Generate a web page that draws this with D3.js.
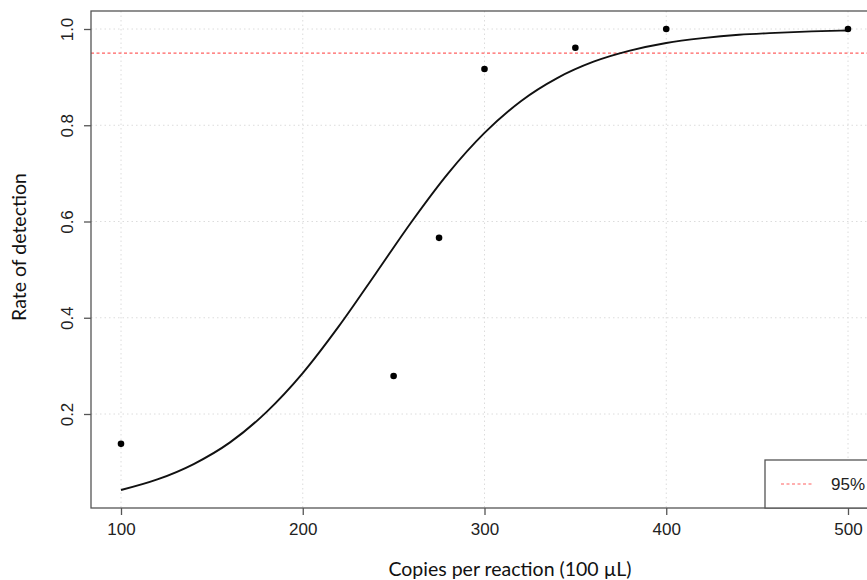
<!DOCTYPE html>
<html>
<head>
<meta charset="utf-8">
<script src="https://cdn.jsdelivr.net/npm/d3@7"></script>
<style>
  body { margin: 0; background: #fff; }
  svg { display: block; }
</style>
</head>
<body>
<svg id="chart" width="867" height="580"></svg>
<script>
// observed detection rates
var copies = [100, 250, 275, 300, 350, 400, 500]
var rates = [0.138, 0.279, 0.566, 0.917, 0.961, 1.0, 1.0]

// fitted curve
var fitX = [100, 120, 140, 160, 180, 200, 220, 240, 260, 280, 300, 320, 340, 360, 380, 400, 420, 440, 460, 480, 500]
var fitY = [0.042, 0.064, 0.096, 0.141, 0.204, 0.285, 0.383, 0.491, 0.600, 0.700, 0.784, 0.850, 0.898, 0.932, 0.955, 0.971, 0.981, 0.988, 0.992, 0.995, 0.997]

var xTicks = [100, 200, 300, 400, 500]
var yTicks = [0.2, 0.4, 0.6, 0.8, 1.0]
var threshold = 0.95

var svg = d3.select('#chart')
var pLeft = 91, pTop = 11, pRight = 877, pBottom = 508

var x = d3.scaleLinear().domain([100, 500]).range([121, 848])
var y = d3.scaleLinear().domain([0.2, 1.0]).range([414, 29])

var g = svg.append('g')

// grid
g.selectAll('.gx').data(xTicks).enter().append('line')
  .attr('x1', function(d) { return x(d) }).attr('x2', function(d) { return x(d) })
  .attr('y1', pTop).attr('y2', pBottom)
  .attr('stroke', '#dcdcdc').attr('stroke-dasharray', '1.5,3')
g.selectAll('.gy').data(yTicks).enter().append('line')
  .attr('x1', pLeft).attr('x2', pRight)
  .attr('y1', function(d) { return y(d) }).attr('y2', function(d) { return y(d) })
  .attr('stroke', '#dcdcdc').attr('stroke-dasharray', '1.5,3')

// 95% line
g.append('line')
  .attr('x1', pLeft).attr('x2', pRight)
  .attr('y1', y(threshold)).attr('y2', y(threshold))
  .attr('stroke', '#ff6060').attr('stroke-width', 1.2).attr('stroke-dasharray', '3,2.5')

// fitted curve
var line = d3.line()
  .x(function(d) { return x(d[0]) })
  .y(function(d) { return y(d[1]) })
  .curve(d3.curveMonotoneX)
g.append('path')
  .datum(d3.zip(fitX, fitY))
  .attr('d', line)
  .attr('fill', 'none').attr('stroke', '#111').attr('stroke-width', 1.9)

// observed points
g.selectAll('.pt').data(d3.zip(copies, rates)).enter().append('circle')
  .attr('cx', function(d) { return x(d[0]) })
  .attr('cy', function(d) { return y(d[1]) })
  .attr('r', 3.3).attr('fill', '#000')

// frame
g.append('rect')
  .attr('x', pLeft).attr('y', pTop)
  .attr('width', pRight - pLeft).attr('height', pBottom - pTop)
  .attr('fill', 'none').attr('stroke', '#555').attr('stroke-width', 1.3)

// axes
var xAxis = d3.axisBottom(x).tickValues(xTicks).tickSize(7).tickPadding(8)
var yAxis = d3.axisLeft(y).tickValues(yTicks).tickSize(7).tickPadding(8)
  .tickFormat(d3.format('.1f'))

var gx = svg.append('g').attr('transform', 'translate(0,' + pBottom + ')').call(xAxis)
gx.select('.domain').remove()
gx.selectAll('line').attr('stroke', '#555').attr('stroke-width', 1.3)
gx.selectAll('text').attr('font-family', 'Liberation Sans, Arial, sans-serif')
  .attr('font-size', 17).attr('fill', '#222')

var gy = svg.append('g').attr('transform', 'translate(' + pLeft + ',0)').call(yAxis)
gy.select('.domain').remove()
gy.selectAll('line').attr('stroke', '#555').attr('stroke-width', 1.3)
gy.selectAll('text')
  .attr('font-family', 'Liberation Sans, Arial, sans-serif')
  .attr('font-size', 17).attr('fill', '#222')
  .attr('text-anchor', 'middle').attr('dy', null)
  .attr('x', null)
  .attr('transform', 'translate(-18,0) rotate(-90)')

// axis titles
svg.append('text')
  .attr('x', 510).attr('y', 576)
  .attr('text-anchor', 'middle')
  .attr('font-family', 'Lato, Open Sans, sans-serif').attr('font-size', 19.5)
  .attr('fill', '#111')
  .text('Copies per reaction (100 µL)')
svg.append('text')
  .attr('transform', 'translate(26,247) rotate(-90)')
  .attr('text-anchor', 'middle')
  .attr('font-family', 'Lato, Open Sans, sans-serif').attr('font-size', 19.5)
  .attr('fill', '#111')
  .text('Rate of detection')

// legend
var lg = svg.append('g')
lg.append('rect')
  .attr('x', 765).attr('y', 460).attr('width', 120).attr('height', pBottom - 460)
  .attr('fill', '#fff').attr('stroke', '#555').attr('stroke-width', 1.3)
lg.append('line')
  .attr('x1', 781).attr('x2', 813).attr('y1', 484).attr('y2', 484)
  .attr('stroke', '#ff6060').attr('stroke-width', 1.2).attr('stroke-dasharray', '3,2.5')
lg.append('text')
  .attr('x', 831).attr('y', 490)
  .attr('font-family', 'Liberation Sans, Arial, sans-serif').attr('font-size', 17)
  .attr('fill', '#222')
  .text('95%')
</script>
</body>
</html>
